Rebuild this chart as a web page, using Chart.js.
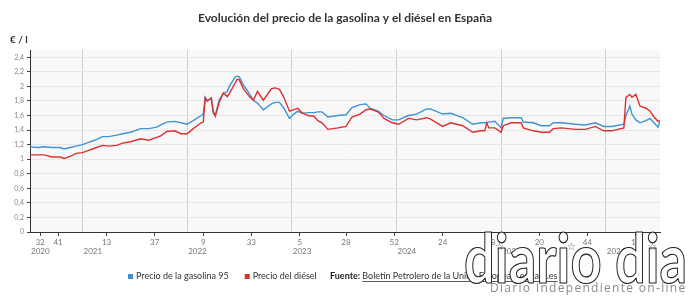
<!DOCTYPE html>
<html lang="es">
<head>
<meta charset="utf-8">
<script src="https://cdn.jsdelivr.net/npm/chart.js@4.4.0/dist/chart.umd.min.js"></script>
<style>
  html, body { margin: 0; padding: 0; background: #fff; }
  #contenedor { width: 690px; height: 296px; position: relative; }
</style>
</head>
<body>
<div id="contenedor"><canvas id="graficoCarburantes"></canvas></div>
<script>
// Semanas (año-semana) y precios medios en €/l
const semanas = ['2020-27','2020-31','2020-34','2020-38','2020-42','2020-44','2020-47','2020-50',
  '2021-01','2021-04','2021-07','2021-11','2021-14','2021-18','2021-21','2021-25','2021-30','2021-34','2021-38','2021-40','2021-43','2021-47','2021-50',
  '2022-01','2022-04','2022-08','2022-09','2022-10','2022-11','2022-13','2022-14','2022-15','2022-17','2022-19','2022-21','2022-22','2022-25','2022-26','2022-27','2022-29','2022-32','2022-34','2022-36','2022-39','2022-43','2022-45','2022-47','2022-49','2022-52',
  '2023-02','2023-04','2023-06','2023-09','2023-12','2023-14','2023-16','2023-19','2023-24','2023-28','2023-31','2023-35','2023-38','2023-40','2023-44','2023-47','2023-51',
  '2024-02','2024-07','2024-11','2024-16','2024-18','2024-24','2024-28','2024-34','2024-39','2024-43','2024-45','2024-46','2024-47','2024-50',
  '2025-01','2025-02','2025-06','2025-11','2025-12','2025-17','2025-21','2025-25','2025-27','2025-31','2025-38','2025-43','2025-48','2025-52',
  '2026-04','2026-10','2026-11','2026-13','2026-14','2026-16','2026-18','2026-21','2026-23','2026-25','2026-27','2026-28'];

const gasolina95 = [1.17,1.16,1.17,1.16,1.16,1.14,1.16,1.18,
  1.20,1.23,1.26,1.31,1.31,1.33,1.35,1.37,1.42,1.42,1.44,1.47,1.51,1.52,1.50,
  1.48,1.53,1.60,1.62,1.85,1.80,1.84,1.63,1.60,1.82,1.90,1.93,2.00,2.13,2.14,2.13,2.02,1.90,1.81,1.77,1.68,1.76,1.78,1.78,1.71,1.56,
  1.62,1.66,1.63,1.64,1.64,1.65,1.65,1.58,1.60,1.61,1.71,1.75,1.76,1.70,1.66,1.60,1.54,
  1.54,1.60,1.62,1.69,1.69,1.62,1.63,1.57,1.48,1.50,1.50,1.50,1.51,1.52,
  1.43,1.56,1.57,1.57,1.51,1.50,1.46,1.46,1.50,1.50,1.48,1.47,1.50,1.45,
  1.45,1.48,1.60,1.73,1.62,1.54,1.50,1.53,1.56,1.50,1.44,1.52];

const diesel = [1.06,1.06,1.06,1.03,1.03,1.01,1.04,1.08,
  1.09,1.12,1.15,1.19,1.18,1.19,1.22,1.24,1.28,1.26,1.30,1.32,1.38,1.39,1.35,
  1.35,1.42,1.50,1.51,1.84,1.80,1.84,1.66,1.59,1.78,1.91,1.86,1.90,2.05,2.10,2.09,1.97,1.86,1.81,1.93,1.81,1.97,1.98,1.96,1.86,1.66,
  1.68,1.70,1.64,1.60,1.59,1.53,1.50,1.41,1.43,1.45,1.58,1.62,1.68,1.69,1.65,1.56,1.50,
  1.48,1.56,1.54,1.57,1.55,1.45,1.50,1.46,1.37,1.39,1.39,1.50,1.43,1.43,
  1.37,1.46,1.50,1.50,1.43,1.39,1.37,1.37,1.42,1.43,1.41,1.41,1.45,1.39,
  1.39,1.43,1.85,1.89,1.85,1.89,1.73,1.70,1.66,1.58,1.52,1.53];

// Marcas del eje X (semana) y años
const marcasSemana = ['2020-32','2020-41','2021-13','2021-37','2022-9','2022-33','2023-5','2023-28','2023-52','2024-24','2024-48','2025-20','2025-44','2026-16'];
const anios = [2020, 2021, 2022, 2023, 2024, 2025, 2026];
const marcasY = [0, 0.2, 0.4, 0.6, 0.8, 1, 1.2, 1.4, 1.6, 1.8, 2, 2.2, 2.4];

const FUENTE = 'Lato, "Open Sans", sans-serif';

function semanaAX(s) {
    const partes = s.split('-').map(Number);
    return partes[0] + (partes[1] - 1) / 52.18;
}

const etiquetasX = {};
marcasSemana.forEach(s => { etiquetasX[semanaAX(s).toFixed(4)] = s.split('-')[1]; });
const esAnio = v => anios.indexOf(v) !== -1;

const extras = {
    id: 'extras',
    beforeDraw(chart) {
        const ctx = chart.ctx, a = chart.chartArea;
        ctx.save();
        ctx.fillStyle = '#fff';
        ctx.fillRect(0, 0, chart.width, chart.height);
        ctx.fillStyle = '#f8f8f8';
        ctx.fillRect(a.left, a.top, a.right - a.left, a.bottom - a.top);
        ctx.restore();
    },
    afterDraw(chart) {
        const ctx = chart.ctx, a = chart.chartArea, x = chart.scales.x;
        ctx.save();

        // titulo
        ctx.fillStyle = '#333';
        ctx.font = 'bold 12px ' + FUENTE;
        ctx.textBaseline = 'middle';
        ctx.textAlign = 'center';
        ctx.fillText('Evolución del precio de la gasolina y el diésel en España', 345, 18);

        // unidad
        ctx.textAlign = 'left';
        ctx.font = 'bold 10px ' + FUENTE;
        ctx.fillText('€ / l', 10, 40);

        // años bajo las semanas
        ctx.font = '8px ' + FUENTE;
        ctx.fillStyle = '#777';
        anios.forEach(an => {
            const px = an === anios[0] ? a.left : x.getPixelForValue(an);
            ctx.fillText(String(an), px + 1, 251);
        });

        // leyenda
        let lx = 128;
        ctx.font = '9px ' + FUENTE;
        chart.data.datasets.slice().sort((p, q) => q.order - p.order).forEach(ds => {
            ctx.fillStyle = ds.borderColor;
            ctx.fillRect(lx, 274, 5, 5);
            ctx.fillStyle = '#333';
            ctx.fillText(ds.label, lx + 8, 276.5);
            lx += 8 + ctx.measureText(ds.label).width + 16;
        });

        // fuente
        ctx.font = 'bold 9px ' + FUENTE;
        ctx.fillStyle = '#222';
        ctx.fillText('Fuente:', 330, 276.5);
        const fx = 330 + ctx.measureText('Fuente: ').width;
        ctx.font = '9px ' + FUENTE;
        const enlace = 'Boletín Petrolero de la Unión Europea / epdata.es';
        ctx.fillStyle = '#333';
        ctx.fillText(enlace, fx, 276.5);
        ctx.fillRect(fx, 281, ctx.measureText(enlace).width, 0.8);

        // marca de agua: letras huecas con contorno fino
        ctx.save();
        ctx.translate(464, 283);
        ctx.scale(0.8, 1);
        ctx.font = 'bold 68px Lato, sans-serif';
        ctx.textBaseline = 'alphabetic';
        ctx.lineJoin = 'round';
        ctx.fillStyle = '#fff';
        ctx.fillText('diario dia', 0, 0);
        ctx.strokeStyle = '#222';
        ctx.lineWidth = 1.2;
        ctx.strokeText('diario dia', 0, 0);
        ctx.restore();

        ctx.font = '10px "DejaVu Sans", sans-serif';
        ctx.fillStyle = '#555';
        ctx.textBaseline = 'middle';
        [500, 572, 653].forEach(sx => ctx.fillText('☆', sx - 5, 247));

        ctx.font = '12px "Open Sans", sans-serif';
        ctx.letterSpacing = '1.3px';
        ctx.fillStyle = '#8a8a8a';
        ctx.fillText('Diario Independiente on-line', 490, 289);
        ctx.restore();
    }
};

const ctx = document.getElementById('graficoCarburantes').getContext('2d');
new Chart(ctx, {
    type: 'line',
    data: {
        datasets: [{
            label: 'Precio de la gasolina 95',
            data: semanas.map((s, i) => ({ x: semanaAX(s), y: gasolina95[i] })),
            borderColor: '#3f93d2',
            borderWidth: 1.4,
            pointRadius: 0,
            tension: 0,
            order: 1
        }, {
            label: 'Precio del diésel',
            data: semanas.map((s, i) => ({ x: semanaAX(s), y: diesel[i] })),
            borderColor: '#dc2f2f',
            borderWidth: 1.4,
            pointRadius: 0,
            tension: 0,
            order: 0
        }]
    },
    options: {
        responsive: true,
        maintainAspectRatio: false,
        animation: false,
        events: [],
        layout: { padding: { left: 0, right: 30, top: 50, bottom: 34 } },
        scales: {
            x: {
                type: 'linear',
                min: semanaAX(semanas[0]),
                max: semanaAX(semanas[semanas.length - 1]),
                afterBuildTicks: scale => {
                    const vals = anios.slice(1).concat(marcasSemana.map(semanaAX));
                    vals.sort((p, q) => p - q);
                    scale.ticks = vals.map(v => ({ value: v }));
                },
                afterFit: scale => { scale.height = 30; },
                grid: {
                    color: c => (c.tick && esAnio(c.tick.value)) ? '#cfcfcf' : 'rgba(0,0,0,0)',
                    tickColor: c => (c.tick && esAnio(c.tick.value)) ? 'rgba(0,0,0,0)' : '#444',
                    tickLength: 4,
                    lineWidth: 1
                },
                border: { color: '#333', width: 1 },
                ticks: {
                    autoSkip: false,
                    maxRotation: 0,
                    padding: 2,
                    color: '#777',
                    font: { family: FUENTE, size: 8 },
                    callback: v => esAnio(v) ? '' : (etiquetasX[v.toFixed(4)] || '')
                }
            },
            y: {
                min: 0,
                max: 2.5,
                afterBuildTicks: scale => { scale.ticks = marcasY.map(v => ({ value: v })); },
                afterFit: scale => { scale.width = 30; },
                grid: { color: '#e6e6e6', tickColor: '#444', tickLength: 3 },
                border: { color: '#333', width: 1 },
                ticks: {
                    padding: 3,
                    color: '#888',
                    font: { family: FUENTE, size: 7 },
                    callback: v => String(Math.round(v * 10) / 10).replace('.', ',')
                }
            }
        },
        plugins: {
            legend: { display: false },
            tooltip: { enabled: false },
            title: { display: false }
        }
    },
    plugins: [extras]
});
</script>
</body>
</html>
